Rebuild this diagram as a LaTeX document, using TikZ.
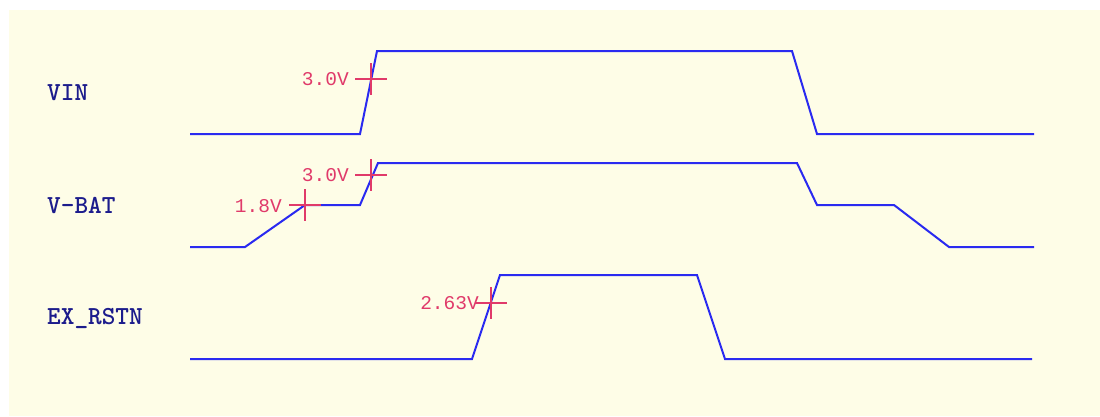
\documentclass[tikz,border=0pt]{standalone}
\usepackage{fontspec}
\usetikzlibrary{calc}
\newfontfamily\valfont{Liberation Mono}
\definecolor{bgyellow}{HTML}{FEFDE7}
\definecolor{wave}{HTML}{2A2AF0}
\definecolor{mark}{HTML}{E03A6A}
\definecolor{signame}{HTML}{1C1C8C}
\tikzset{
  wavel/.style={draw=wave, line width=2pt, line join=miter},
  crossl/.style={draw=mark, line width=1.3pt},
  siglabel/.style={anchor=west, inner sep=0pt, text=signame, font=\ttfamily\bfseries\fontsize{26}{26}\selectfont},
  vallabel/.style={anchor=east, inner sep=0pt, text=mark, font=\valfont\fontsize{19.5}{20}\selectfont},
}
\newcommand{\crossmark}[1]{\draw[crossl] ($(#1)+(-16,0)$) -- ($(#1)+(16,0)$) ($(#1)+(0,-16)$) -- ($(#1)+(0,16)$);}
\begin{document}
\begin{tikzpicture}[x=1pt,y=-1pt]
\useasboundingbox (0,0) rectangle (1100,416);
\fill[white] (0,0) rectangle (1100,416);
\fill[bgyellow] (9,10) rectangle (1100,416);
% signal names
\node[siglabel] (nvin) at (47,93) {VIN};
\node[siglabel] (nvbat) at (47,205) {V-BAT};
\node[siglabel] (nrst) at (47,318) {EX\_RSTN};
% VIN waveform
\draw[wavel] (190,134) -- (360,134) -- (377,51) -- (792,51) -- (817,134) -- (1034,134);
% V-BAT waveform
\draw[wavel] (190,247) -- (245,247) -- (305,205) -- (360,205) -- (378,163) -- (797,163) -- (817,205) -- (894,205) -- (949,247) -- (1034,247);
% EX_RSTN waveform
\draw[wavel] (190,359) -- (472,359) -- (500,275) -- (697,275) -- (725,359) -- (1032,359);
% marks
\coordinate (m1) at (371,79);
\coordinate (m2) at (371,175);
\coordinate (m3) at (305,205);
\coordinate (m4) at (491,303);
\crossmark{m1}
\crossmark{m2}
\crossmark{m3}
\crossmark{m4}
\node[vallabel] (l1) at (349,79) {3.0V};
\node[vallabel] (l2) at (349,175) {3.0V};
\node[vallabel] (l3) at (282,206) {1.8V};
\node[vallabel] (l4) at (479,303) {2.63V};
\end{tikzpicture}
\end{document}
